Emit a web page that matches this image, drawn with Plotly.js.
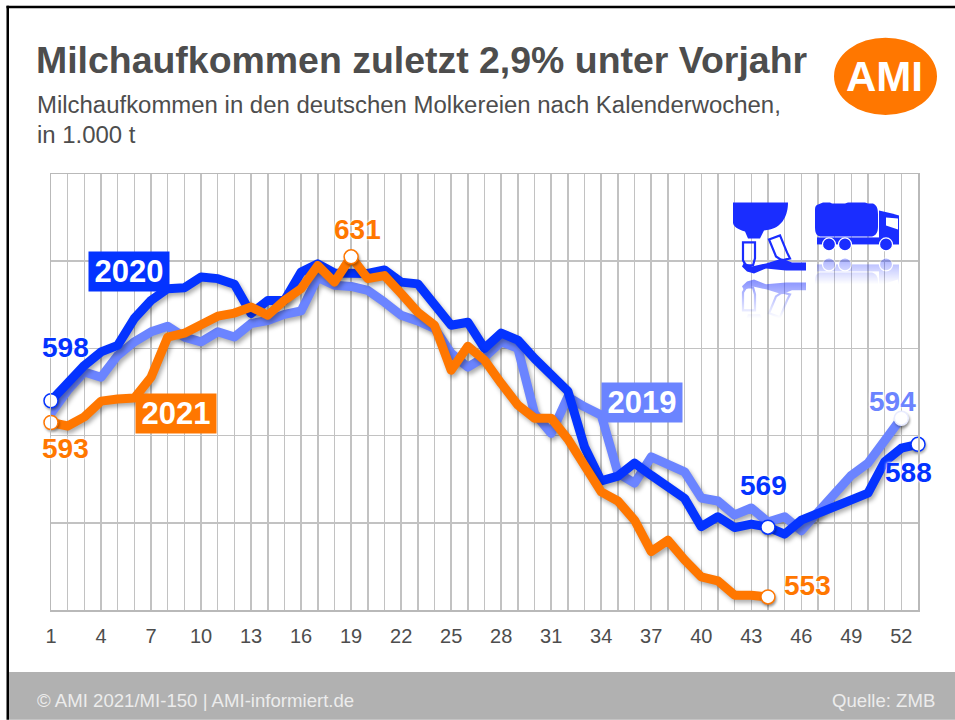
<!DOCTYPE html>
<html><head><meta charset="utf-8">
<script src="https://cdn.plot.ly/plotly-3.0.1.min.js"></script>
<style>html,body{margin:0;padding:0;background:#fff;overflow:hidden}#chart{width:955px;height:720px}</style>
</head><body><div id="chart"></div>
<script>
const tickLabels = ["1","4","7","10","13","16","19","22","25","28","31","34","37","40","43","46","49","52"];
const values2019 = [595.1,600.4,604.6,603.4,608.4,611.5,613.8,615.1,612.6,611.5,613.8,612.6,615.7,616.4,617.8,618.6,626.3,624.5,624.2,623.3,620.6,617.6,616.3,614.6,608.9,605.7,608,611.5,610,595.1,590.5,598.9,596.6,594.7,581.4,579.1,585.1,583.2,581.7,575.7,575,571.8,573.4,570.2,571.4,568.2,572.5,576.3,580.9,583.7,588.9,594];
const values2020 = [598,602.3,606.1,609.2,610.7,616.9,621,623.7,623.9,626.4,626,624.7,618,621,621,627.5,629.4,627.3,627.5,627.2,628,625.2,624.8,619.9,615.3,616,610,613.5,611.9,607.7,604.1,600.2,587.4,579.6,580.7,583.7,580.9,578.2,575.6,569.1,571.4,568.9,569.7,569,567.4,570.6,572.2,573.7,575,576.8,584,587.1,588];
const values2021 = [593,592.2,594.3,597.9,598.4,598.6,603.4,612.6,613.5,615.5,617.4,618.1,619.5,617.6,621,623.7,629,625.2,631,626,626.7,622.6,618.3,615.3,605,610.5,607.3,602,597,594,594,589.2,583.2,577.1,575,570.6,563.4,566,561.5,557.6,556.7,553.4,553.4,553];
const yGrid = [550,570,590,610,630,650];
const C2019="#6b84ff", C2020="#0433ff", C2021="#ff7700", TXT="#4d4d4d";

const W=955,H=720,L=51,R=918,T=173.5,B=610;
const px=x=>(x-L)/(R-L), py=y=>(B-y)/(B-T);
const weeks=v=>v.map((_,i)=>i+1);
const allWeeks=weeks(values2020);

function lineTrace(name,vals,color){return {type:'scatter',mode:'lines',name,x:weeks(vals),y:vals,
  line:{color,width:9,shape:'linear'},hoverinfo:'x+y',cliponaxis:false};}
function dots(name,vals,idx,color,border){return {type:'scatter',mode:'markers',name:name+' Punkte',
  x:idx.map(i=>i+1),y:idx.map(i=>vals[i]),cliponaxis:false,hoverinfo:'skip',
  marker:{size:14,color:'#fff',line:{color:border||color,width:1.5}}};}
const traces=[
  lineTrace('2019',values2019,C2019),
  lineTrace('2020',values2020,C2020),
  lineTrace('2021',values2021,C2021),
  dots('2019',values2019,[values2019.length-1],C2019,'#e8ebff'),
  dots('2020',values2020,[0,43,values2020.length-1],C2020),
  dots('2021',values2021,[0,18,values2021.length-1],C2021)
];

function ann(text,x,y,size,color,opt){return Object.assign({text,xref:'paper',yref:'paper',x:px(x),y:py(y),
  xanchor:'center',yanchor:'middle',showarrow:false,borderpad:0,
  font:{family:'"Liberation Sans",Arial,sans-serif',size,color}},opt||{});}
function valLabel(text,x,y,color){const a=ann('<b>'+text+'</b>',x,y,28,color);
  a.font.shadow='0 0 3px #fff, 0 0 3px #fff';return a;}
function box(text,x0,y0,x1,y1,color){return ann('<b>'+text+'</b>',(x0+x1)/2,(y0+y1)/2,31,'#fff',
  {bgcolor:color,width:x1-x0,height:y1-y0,align:'center',valign:'middle'});}

const annotations=[
  ann('Milchaufkommen in den deutschen Molkereien nach Kalenderwochen,',36,104,23.95,TXT,{xanchor:'left'}),
  ann('in 1.000 t',36,134,23.95,TXT,{xanchor:'left'}),
  ann('<b>AMI</b>',884,76,42,'#fff'),
  box('2020',89,252,169,291,C2020),
  box('2021',136,394,216,433,C2021),
  box('2019',602,383,682,422,C2019),
  valLabel('598',65,347,C2020),
  valLabel('593',65,448,C2021),
  valLabel('631',357,229,C2021),
  valLabel('569',763,485,C2020),
  valLabel('553',807,585,C2021),
  valLabel('594',892,401,C2019),
  valLabel('588',908,472,C2020),
  ann('© AMI 2021/MI-150 | AMI-informiert.de',36,701,18.6,'#ececec',{xanchor:'left'}),
  ann('Quelle: ZMB',936,701,18.6,'#ececec',{xanchor:'right'})
];

function rect(x0,y0,x1,y1,fill){return {type:'rect',xref:'paper',yref:'paper',x0:px(x0),x1:px(x1),y0:py(y0),y1:py(y1),
  fillcolor:fill,line:{width:0},layer:'below'};}
const shapes=[
  rect(9,672,955,720,'#b1b1b1'),
  rect(6.5,5,9,720,'#000'),
  rect(6.5,5,955,7.5,'#000'),
  {type:'circle',xref:'paper',yref:'paper',x0:px(834),x1:px(937),y0:py(37),y1:py(114.5),fillcolor:C2021,line:{width:0},layer:'below'}
];

const milk=`<g fill="#1a2dff" stroke="none">
<path d="M13 2H68C68 14 63 26 50 29L44 30L40 38H28L25 31C18 29 13 26 13 22Z"/>
<path d="M23 42H35V58L33 65H26L23 60Z" fill="none" stroke="#1a2dff" stroke-width="2.2"/>
<path d="M49 39L60 35L67 52L70 58L62 60L56 56Z" fill="none" stroke="#1a2dff" stroke-width="2.2"/>
<path d="M24 62L32 66L46 63L62 58L72 62H86V70H66L46 68L34 73L27 71L22 66Z"/></g>`;
const truck=`<g fill="#1a2dff" stroke="none">
<path d="M98 4L103 2H110L112 3H125L128 2H145L148 3H153C157 5 158 8 158 14V26C158 32 156 35 152 36H100C96 35 95 32 95 26V12C95 7 95 5 98 4Z"/>
<rect x="97" y="37" width="62" height="7"/>
<path d="M159 10L172 13L179 15V44H159Z"/>
<path d="M166 17L178 18V29L166 25Z" fill="#fff"/>
<circle cx="109" cy="44" r="6.5" stroke="#fff" stroke-width="1.2"/>
<circle cx="125" cy="44" r="6.5" stroke="#fff" stroke-width="1.2"/>
<circle cx="166" cy="44" r="6.5" stroke="#fff" stroke-width="1.2"/></g>`;
const iconSvg=`<svg xmlns="http://www.w3.org/2000/svg" width="185" height="140" viewBox="0 0 185 140">
<defs>
<linearGradient id="wa" gradientUnits="userSpaceOnUse" x1="0" y1="78" x2="0" y2="118"><stop offset="0" stop-color="#fff" stop-opacity="0.55"/><stop offset="1" stop-color="#fff" stop-opacity="0"/></linearGradient>
<linearGradient id="wb" gradientUnits="userSpaceOnUse" x1="0" y1="56" x2="0" y2="84"><stop offset="0" stop-color="#fff" stop-opacity="0.4"/><stop offset="1" stop-color="#fff" stop-opacity="0"/></linearGradient>
<mask id="ma" maskUnits="userSpaceOnUse" x="0" y="0" width="185" height="140"><rect x="0" y="78" width="185" height="40" fill="url(#wa)"/></mask>
<mask id="mb" maskUnits="userSpaceOnUse" x="0" y="0" width="185" height="140"><rect x="0" y="56" width="185" height="28" fill="url(#wb)"/></mask>
</defs>
<g mask="url(#ma)"><g transform="translate(0,152) scale(1,-1)">${milk}</g></g>
<g mask="url(#mb)"><g transform="translate(0,108) scale(1,-1)">${truck}</g></g>
${milk}${truck}</svg>`;

const layout={
  width:W,height:H,autosize:false,showlegend:false,
  paper_bgcolor:'#fff',plot_bgcolor:'#fff',
  margin:{l:L,r:W-R,t:T,b:H-B,pad:0},
  font:{family:'"Liberation Sans",Arial,sans-serif',color:TXT},
  title:{text:'<b>Milchaufkommen zuletzt 2,9% unter Vorjahr</b>',x:36/W,xref:'container',xanchor:'left',
    y:1-60/H,yref:'container',yanchor:'middle',font:{size:37.45,color:TXT,family:'"Liberation Sans",Arial,sans-serif'}},
  xaxis:{range:[1,53],tickmode:'array',tickvals:allWeeks,
    ticktext:allWeeks.map(w=>tickLabels.includes(String(w))?String(w):''),
    showgrid:true,gridcolor:'#c2c2c2',gridwidth:1.5,zeroline:false,
    showline:true,linecolor:'#b9b9b9',linewidth:1.5,mirror:true,
    ticks:'outside',ticklen:7,tickcolor:'rgba(0,0,0,0)',tickangle:0,
    tickfont:{size:20,color:TXT,family:'"Liberation Sans",Arial,sans-serif'},fixedrange:true},
  yaxis:{range:[550,650],tickmode:'array',tickvals:yGrid,showticklabels:false,ticks:'',
    showgrid:true,gridcolor:'#c2c2c2',gridwidth:1.5,zeroline:false,
    showline:true,linecolor:'#b9b9b9',linewidth:1.5,mirror:true,fixedrange:true},
  annotations,shapes,
  images:[{source:'data:image/svg+xml;charset=utf-8,'+encodeURIComponent(iconSvg),xref:'paper',yref:'paper',
    x:px(720),y:py(200),sizex:185/(R-L),sizey:140/(B-T),xanchor:'left',yanchor:'top',sizing:'stretch',layer:'above'}]
};
Plotly.newPlot('chart',traces,layout,{displayModeBar:false,staticPlot:true}).then(gd=>{
  gd.querySelectorAll('.scatterlayer .trace .js-line').forEach(p=>{
    p.style.strokeLinejoin='round';p.style.strokeLinecap='round';
    p.style.filter='drop-shadow(2px 3px 2px rgba(0,0,0,.32))';});
  gd.querySelectorAll('.scatterlayer .trace .point').forEach(p=>{
    p.style.filter='drop-shadow(1px 2px 1px rgba(0,0,0,.3))';});
});
</script></body></html>
